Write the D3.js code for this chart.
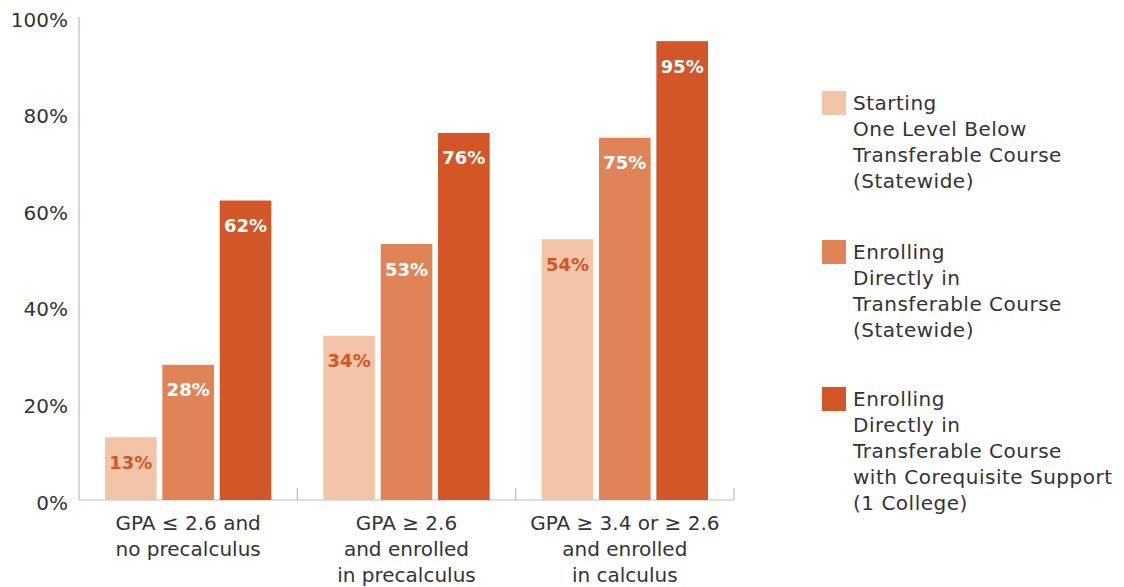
<!DOCTYPE html>
<html><head><meta charset="utf-8">
<script src="https://cdn.jsdelivr.net/npm/d3@7"></script>
<style>
html,body{margin:0;padding:0;background:#fff;}
svg text{font-family:"DejaVu Sans",sans-serif;fill:#333;}
</style></head>
<body>
<svg id="chart" width="1124" height="587"></svg>
<script>
const categories = [
  ["GPA ≤ 2.6 and", "no precalculus"],
  ["GPA ≥ 2.6", "and enrolled", "in precalculus"],
  ["GPA ≥ 3.4 or ≥ 2.6", "and enrolled", "in calculus"]
];
const seriesNames = [
  ["Starting", "One Level Below", "Transferable Course", "(Statewide)"],
  ["Enrolling", "Directly in", "Transferable Course", "(Statewide)"],
  ["Enrolling", "Directly in", "Transferable Course", "with Corequisite Support", "(1 College)"]
];
const seriesA = [13, 34, 54];
const seriesB = [28, 53, 75];
const seriesC = [62, 76, 95];
const yTicks = [0, 20, 40, 60, 80, 100];
const colors = ["#f2c5a9", "#e08458", "#d25628"];
const labelColors = ["#d25628", "#ffffff", "#ffffff"];

const series = [seriesA, seriesB, seriesC];
const svg = d3.select("#chart");
const x0 = d3.scaleBand().domain(d3.range(categories.length)).range([79, 734]).paddingInner(0).paddingOuter(0);
const x1 = d3.scaleBand().domain(d3.range(series.length)).range([26, x0.bandwidth() - 26]).paddingInner(0.1).paddingOuter(0);
const y = d3.scaleLinear().domain([0, 100]).range([500, 17]);

// y tick labels
svg.append("g").selectAll("text").data(yTicks).join("text")
  .attr("x", 68).attr("y", d => y(d) + 4)
  .attr("text-anchor", "end").attr("dominant-baseline", "middle")
  .style("font-size", "20px")
  .text(d => d + "%");

// axes lines
const axisColor = "#bdbdbd";
svg.append("line").attr("x1", 79).attr("x2", 79).attr("y1", 17).attr("y2", 500)
  .attr("stroke", axisColor).attr("stroke-width", 1.2);
svg.append("line").attr("x1", 79).attr("x2", 734).attr("y1", 500).attr("y2", 500)
  .attr("stroke", axisColor).attr("stroke-width", 1.2);
svg.append("g").selectAll("line").data(d3.range(1, categories.length + 1)).join("line")
  .attr("x1", d => 79 + d * x0.bandwidth()).attr("x2", d => 79 + d * x0.bandwidth())
  .attr("y1", 488).attr("y2", 500).attr("stroke", axisColor).attr("stroke-width", 1.2);

// bars
const groups = svg.append("g").selectAll("g").data(categories).join("g")
  .attr("transform", (d, i) => `translate(${x0(i)},0)`);
groups.each(function(cat, ci) {
  const g = d3.select(this);
  series.forEach((s, si) => {
    g.append("rect")
      .attr("x", x1(si)).attr("width", x1.bandwidth())
      .attr("y", y(s[ci])).attr("height", y(0) - y(s[ci]))
      .attr("fill", colors[si]);
    g.append("text")
      .attr("x", x1(si) + x1.bandwidth() / 2).attr("y", y(s[ci]) + 26.5)
      .attr("text-anchor", "middle").attr("dominant-baseline", "middle")
      .style("font-size", "18px").style("font-weight", "bold")
      .style("fill", labelColors[si])
      .text(s[ci] + "%");
  });
  g.append("text")
    .attr("text-anchor", "middle")
    .style("font-size", "20px")
    .selectAll("tspan").data(cat).join("tspan")
    .attr("x", x0.bandwidth() / 2).attr("y", (d, i) => 530 + i * 26)
    .text(d => d);
});

// legend
const legendY = [91, 240, 387];
const lg = svg.append("g").selectAll("g").data(seriesNames).join("g")
  .attr("transform", (d, i) => `translate(822,${legendY[i]})`);
lg.append("rect").attr("width", 24).attr("height", 24).attr("fill", (d, i) => colors[i]);
lg.append("text").style("font-size", "20px").style("letter-spacing", "0.5px")
  .selectAll("tspan").data(d => d).join("tspan")
  .attr("x", 31).attr("y", (d, i) => 19 + i * 26)
  .text(d => d);
</script>
</body></html>
